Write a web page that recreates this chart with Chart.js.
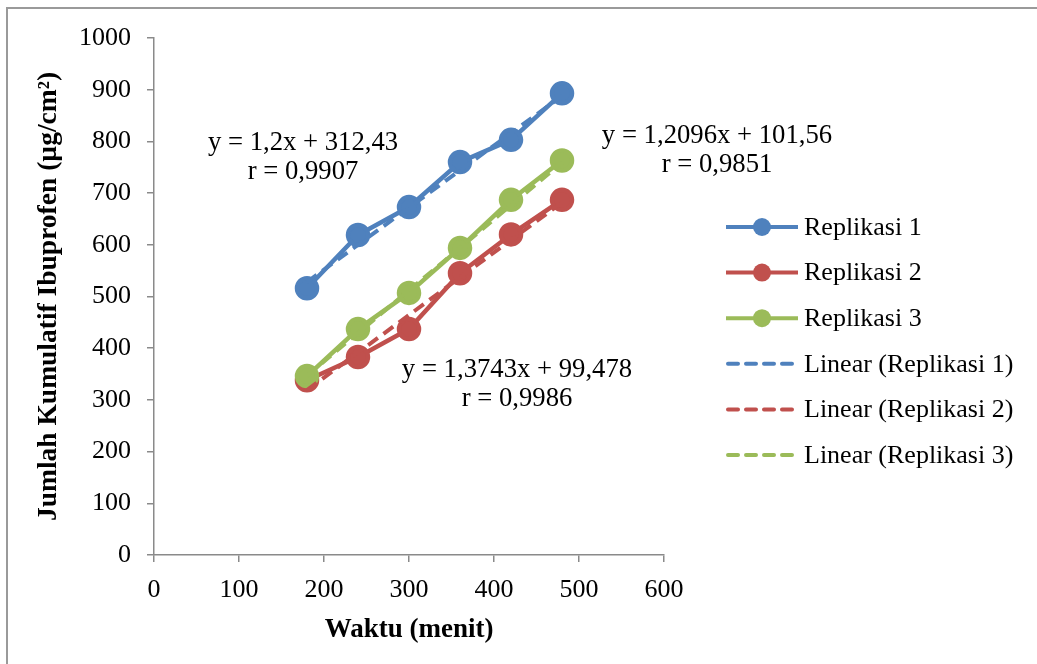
<!DOCTYPE html>
<html>
<head>
<meta charset="utf-8">
<script src="https://cdn.jsdelivr.net/npm/chart.js@4"></script>
<style>
  html, body { margin: 0; padding: 0; background: #ffffff; }
  #wrap { width: 1037px; height: 664px; position: relative; }
</style>
</head>
<body>
<div id="wrap"><canvas id="myChart" width="1037" height="664"></canvas></div>
<script>
// data
const waktu = [180, 240, 300, 360, 420, 480];
const replikasi1 = [516, 619, 673, 760, 803, 893];
const replikasi2 = [338, 383, 437, 545, 620, 687];
const replikasi3 = [346, 437, 507, 594, 687, 763];

// trendline ends (from the equations in the picture)
const trendX = [180, 480];
const trend1 = [528, 888];
const trend2 = [319, 682];
const trend3 = [347, 759];

const seriesNames = ["Replikasi 1", "Replikasi 2", "Replikasi 3"];
const colors = ["#4F81BD", "#C0504D", "#9BBB59"];

const equations = [
    ["y = 1,2x + 312,43", "r = 0,9907"],
    ["y = 1,2096x + 101,56", "r = 0,9851"],
    ["y = 1,3743x + 99,478", "r = 0,9986"]
];
const eqPos = [[303, 150], [717, 143], [517, 377]];

const serif = "'Liberation Serif', 'Times New Roman', serif";

function toPoints(xs, ys) {
    return xs.map((x, i) => ({ x: x, y: ys[i] }));
}

const dataSets = [
    {
        label: seriesNames[0],
        data: toPoints(waktu, replikasi1),
        borderColor: colors[0],
        backgroundColor: colors[0],
        borderWidth: 4.5,
        pointRadius: 10,
        order: 3
    },
    {
        label: seriesNames[1],
        data: toPoints(waktu, replikasi2),
        borderColor: colors[1],
        backgroundColor: colors[1],
        borderWidth: 4.5,
        pointRadius: 10,
        order: 2
    },
    {
        label: seriesNames[2],
        data: toPoints(waktu, replikasi3),
        borderColor: colors[2],
        backgroundColor: colors[2],
        borderWidth: 4.5,
        pointRadius: 10,
        order: 1
    }
];

[trend1, trend2, trend3].forEach((t, i) => {
    dataSets.push({
        label: "Linear (" + seriesNames[i] + ")",
        data: toPoints(trendX, t),
        borderColor: colors[i],
        backgroundColor: colors[i],
        borderWidth: 4,
        borderDash: [12, 7],
        pointRadius: 0,
        order: 0
    });
});

const frame = {
    id: "frame",
    beforeDraw(chart) {
        const ctx = chart.ctx;
        ctx.save();
        ctx.fillStyle = "#ffffff";
        ctx.fillRect(0, 0, chart.width, chart.height);
        ctx.strokeStyle = "#9a9a9a";
        ctx.lineWidth = 2;
        ctx.beginPath();
        ctx.moveTo(7, chart.height);
        ctx.lineTo(7, 8);
        ctx.lineTo(chart.width, 8);
        ctx.stroke();
        ctx.restore();
    }
};

const extras = {
    id: "extras",
    afterDraw(chart) {
        const ctx = chart.ctx;
        ctx.save();
        ctx.fillStyle = "#000000";
        ctx.font = "26.7px " + serif;
        ctx.textAlign = "center";
        ctx.textBaseline = "alphabetic";
        equations.forEach((lines, i) => {
            ctx.fillText(lines[0], eqPos[i][0], eqPos[i][1]);
            ctx.fillText(lines[1], eqPos[i][0], eqPos[i][1] + 29);
        });

        // legend
        ctx.font = "26px " + serif;
        const lx = 726, lw = 72, top = 227, step = 45.6;
        chart.data.datasets.forEach((ds, i) => {
            const y = top + i * step;
            ctx.strokeStyle = ds.borderColor;
            ctx.lineWidth = 4;
            ctx.lineCap = ds.borderDash ? "round" : "butt";
            ctx.setLineDash(ds.borderDash ? [10, 8] : []);
            ctx.beginPath();
            ctx.moveTo(lx + (ds.borderDash ? 2 : 0), y);
            ctx.lineTo(lx + lw, y);
            ctx.stroke();
            ctx.setLineDash([]);
            if (ds.pointRadius > 0) {
                ctx.fillStyle = ds.backgroundColor;
                ctx.beginPath();
                ctx.arc(lx + lw / 2, y, 9, 0, Math.PI * 2);
                ctx.fill();
            }
            ctx.fillStyle = "#000000";
            ctx.textAlign = "left";
            ctx.textBaseline = "middle";
            ctx.fillText(ds.label, lx + lw + 6, y + 1);
        });
        ctx.restore();
    }
};

const ctx = document.getElementById("myChart").getContext("2d");
const chart = new Chart(ctx, {
    type: "scatter",
    data: { datasets: dataSets },
    options: {
        responsive: false,
        animation: false,
        showLine: true,
        layout: { padding: { left: 0, top: 38, right: 373, bottom: 0 } },
        plugins: {
            legend: { display: false },
            tooltip: { enabled: false }
        },
        elements: {
            line: { tension: 0, borderJoinStyle: "round" }
        },
        scales: {
            x: {
                type: "linear",
                min: 0,
                max: 600,
                afterFit(scale) { scale.height = 109; },
                ticks: {
                    stepSize: 100,
                    color: "#000000",
                    padding: 13,
                    font: { family: serif, size: 26 },
                    callback: v => String(v)
                },
                grid: {
                    drawOnChartArea: false,
                    drawTicks: true,
                    tickLength: 7,
                    color: "#8a8a8a",
                    lineWidth: 1.5
                },
                border: { display: true, color: "#8a8a8a", width: 1.5 },
                title: {
                    display: true,
                    text: "Waktu (menit)",
                    color: "#000000",
                    font: { family: serif, size: 27, weight: "bold" },
                    padding: { top: 0, bottom: 18 }
                }
            },
            y: {
                type: "linear",
                min: 0,
                max: 1000,
                afterFit(scale) { scale.width = 154; },
                ticks: {
                    stepSize: 100,
                    color: "#000000",
                    padding: 16,
                    font: { family: serif, size: 26 },
                    callback: v => String(v)
                },
                grid: {
                    drawOnChartArea: false,
                    drawTicks: true,
                    tickLength: 7,
                    color: "#8a8a8a",
                    lineWidth: 1.5
                },
                border: { display: true, color: "#8a8a8a", width: 1.5 },
                title: {
                    display: true,
                    text: "Jumlah Kumulatif Ibuprofen (µg/cm²)",
                    color: "#000000",
                    font: { family: serif, size: 27.5, weight: "bold" },
                    padding: { top: 32, bottom: 0 }
                }
            }
        }
    },
    plugins: [frame, extras]
});
</script>
</body>
</html>
